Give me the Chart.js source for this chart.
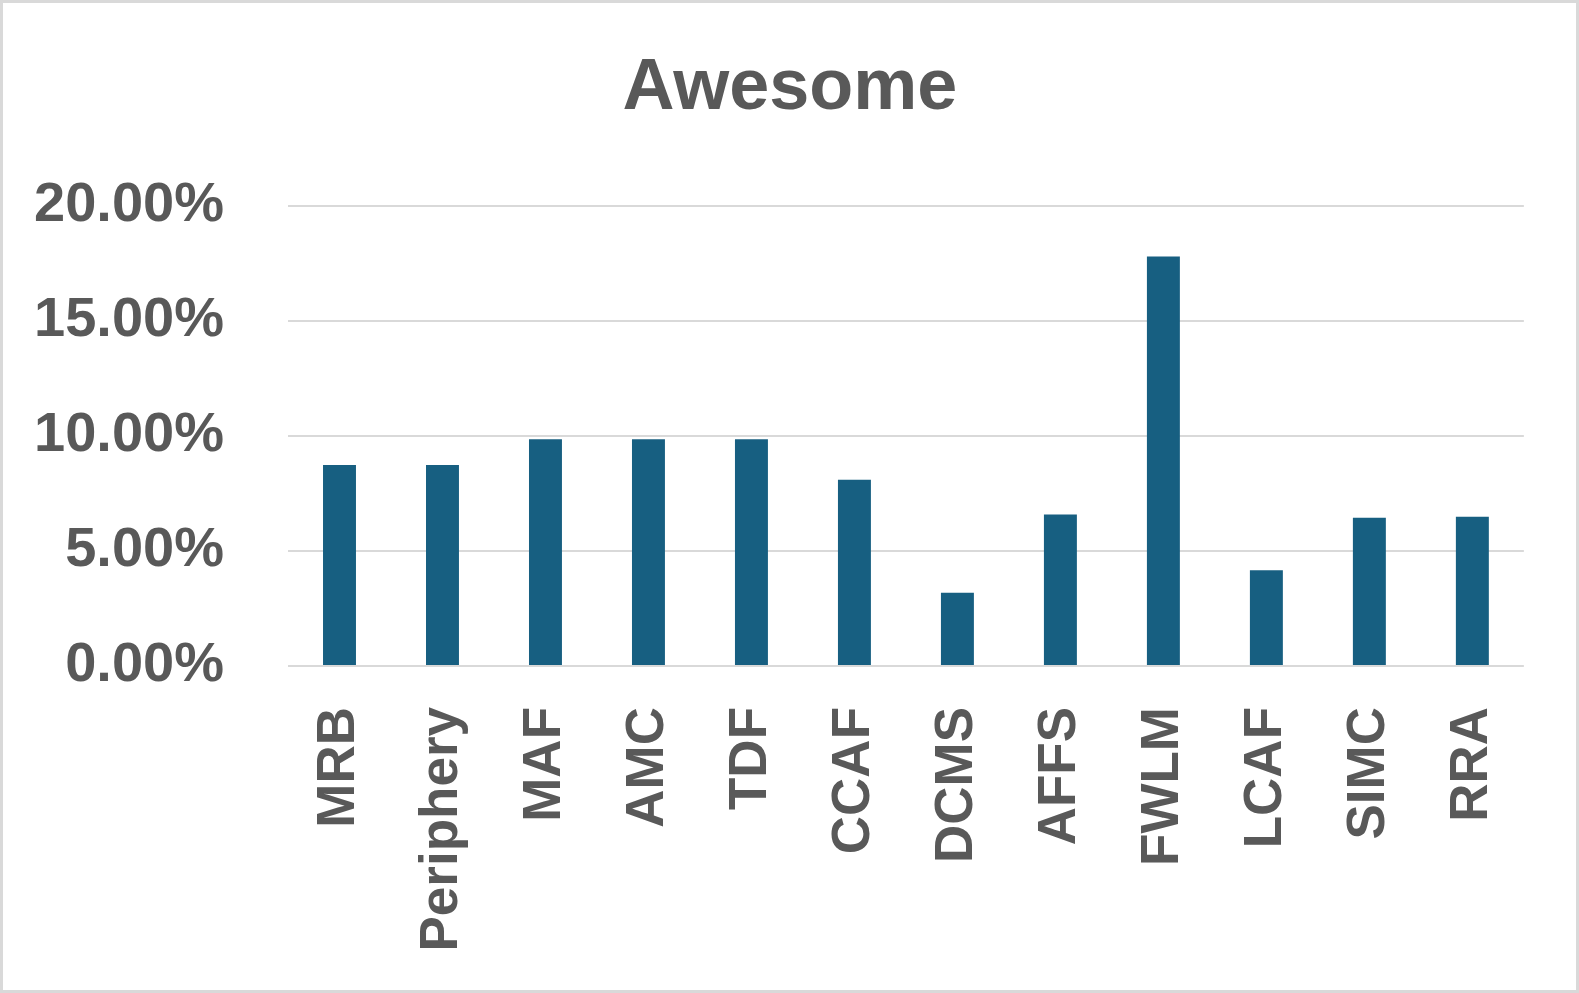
<!DOCTYPE html>
<html>
<head>
<meta charset="utf-8">
<style>
  html, body { margin: 0; padding: 0; background: #ffffff; }
  #wrap { width: 1579px; height: 993px; position: relative; }
  canvas { display: block; }
</style>
<script src="https://cdn.jsdelivr.net/npm/chart.js@4/dist/chart.umd.min.js"></script>
</head>
<body>
<div id="wrap"><canvas id="c" width="1579" height="993"></canvas></div>
<script>
const categories = ["MRB", "Periphery", "MAF", "AMC", "TDF", "CCAF", "DCMS", "AFFS", "FWLM", "LCAF", "SIMC", "RRA"];
const seriesValues = [8.74, 8.74, 9.86, 9.86, 9.86, 8.10, 3.19, 6.59, 17.80, 4.16, 6.45, 6.49];
const yTickValues = [0, 5, 10, 15, 20];
const chartTitle = "Awesome";

const FONT = "'Liberation Sans', Arial, sans-serif";
const TEXT = "#595959";
const GRID = "#d9d9d9";

const borderPlugin = {
  id: 'outerBorder',
  afterLayout(chart) {
    // centre the title over the same span as the reference
    if (chart.titleBlock) { chart.titleBlock.left += 50; }
  },
  afterDraw(chart) {
    const ctx = chart.ctx;
    ctx.save();
    ctx.strokeStyle = GRID;
    ctx.lineWidth = 3;
    ctx.strokeRect(1.5, 1.5, chart.width - 3, chart.height - 3);
    ctx.restore();
  }
};

new Chart(document.getElementById('c'), {
  type: 'bar',
  data: {
    labels: categories,
    datasets: [{
      data: seriesValues,
      backgroundColor: '#175F81',
      borderWidth: 0,
      barPercentage: 0.32,
      categoryPercentage: 1.0
    }]
  },
  options: {
    responsive: false,
    animation: false,
    events: [],
    layout: { padding: { left: 0, right: 49, top: 0, bottom: 0 } },
    plugins: {
      legend: { display: false },
      tooltip: { enabled: false },
      title: {
        display: true,
        text: chartTitle,
        color: TEXT,
        font: { family: FONT, size: 72, weight: 'bold', lineHeight: 1.2 },
        padding: { top: 46, bottom: 73.6 }
      }
    },
    scales: {
      x: {
        grid: { display: false, drawTicks: false },
        border: { display: false },
        ticks: {
          color: TEXT,
          font: { family: FONT, size: 53, weight: 'bold' },
          minRotation: 90,
          maxRotation: 90,
          autoSkip: false,
          padding: 41
        },
        afterFit(scale) { scale.height = 327; }
      },
      y: {
        min: 0,
        max: 20,
        afterBuildTicks(scale) { scale.ticks = yTickValues.map(v => ({ value: v })); },
        grid: { color: GRID, lineWidth: 2, drawTicks: false },
        border: { display: false },
        ticks: {
          color: TEXT,
          font: { family: FONT, size: 56, weight: 'bold' },
          padding: 64,
          callback: v => v.toFixed(2) + '%'
        },
        afterFit(scale) { scale.width = 288; }
      }
    }
  },
  plugins: [borderPlugin]
});
</script>
</body>
</html>
